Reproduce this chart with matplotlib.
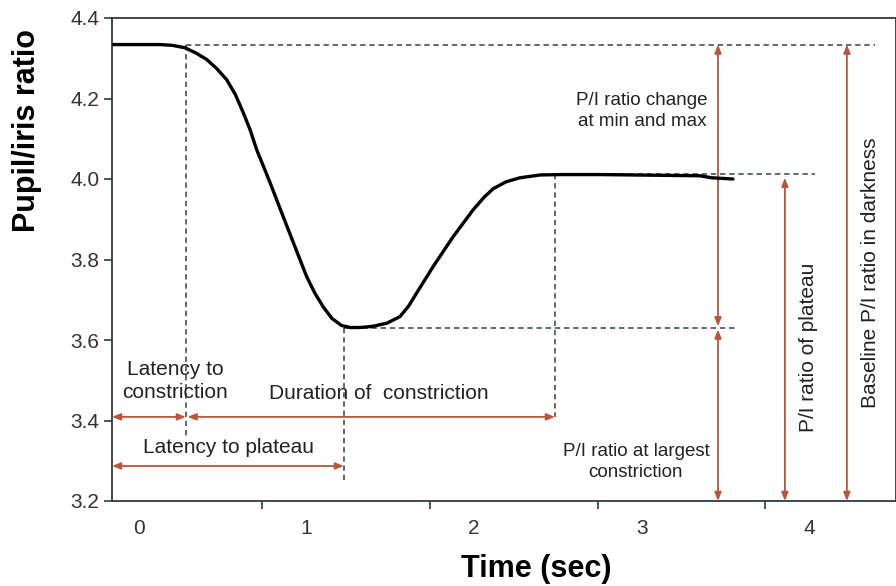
import matplotlib
matplotlib.use("Agg")
import matplotlib.pyplot as plt
from matplotlib.ticker import FixedLocator

plt.rcParams['font.family'] = ['Liberation Sans', 'DejaVu Sans']

# ---- data ----
time_s = [-0.155, 0.125, 0.200, 0.274, 0.340, 0.404, 0.460, 0.523, 0.575, 0.622,
          0.665, 0.702, 0.742, 0.782, 0.861, 0.921, 1.001, 1.050, 1.100, 1.150,
          1.209, 1.260, 1.319, 1.396, 1.480, 1.557, 1.610, 1.657, 1.756, 1.875,
          1.995, 2.060, 2.114, 2.190, 2.273, 2.393, 2.512, 2.751, 3.347, 3.418,
          3.544]
ratio = [4.334, 4.334, 4.332, 4.326, 4.313, 4.297, 4.276, 4.247, 4.210, 4.165,
         4.120, 4.073, 4.032, 3.991, 3.906, 3.842, 3.757, 3.716, 3.682, 3.654,
         3.636, 3.631, 3.631, 3.634, 3.642, 3.658, 3.685, 3.717, 3.783, 3.857,
         3.924, 3.955, 3.976, 3.993, 4.003, 4.010, 4.011, 4.011, 4.008, 4.003,
         4.000]

baseline = 4.334
minimum = 3.630
plateau = 4.013
t_latency = 0.280
t_min = 1.223
t_plateau = 2.482

x_tick_labels = ['0', '1', '2', '3', '4']
x_tick_label_pos = [0, 1, 2, 3, 4]
x_tick_marks = [0.734, 1.736, 2.739, 3.735]
y_ticks = [3.2, 3.4, 3.6, 3.8, 4.0, 4.2, 4.4]

# ---- styling ----
W, H = 896, 586
fig = plt.figure(figsize=(W / 100, H / 100), dpi=100)
ax = fig.add_axes([112 / W, 1 - 501 / H, (W - 112) / W, (501 - 18) / H])

spine_c = '#2d3c44'
dash_c = '#2f4450'
arrow_c = '#b8553a'
text_c = '#222222'

ax.set_xlim(-0.161, 4.517)
ax.set_ylim(3.2, 4.4)
for s in ax.spines.values():
    s.set_color(spine_c)
    s.set_linewidth(1.3)

ax.set_xticks(x_tick_label_pos)
ax.set_xticklabels(x_tick_labels)
ax.xaxis.set_minor_locator(FixedLocator(x_tick_marks))
ax.tick_params(axis='x', which='major', length=0, pad=13, labelsize=15, labelcolor='#333333')
ax.tick_params(axis='x', which='minor', length=6, width=1.2, color=spine_c, direction='out')
ax.set_yticks(y_ticks)
ax.set_yticklabels([f'{v:.1f}' for v in y_ticks])
ax.tick_params(axis='y', length=6, width=1.2, color=spine_c, pad=3, labelsize=15, labelcolor='#333333')

# main curve
ax.plot(time_s, ratio, color='black', lw=2.4, solid_capstyle='round',
        solid_joinstyle='round', zorder=5)

# dashed reference lines
dk = dict(color=dash_c, lw=1.1, ls=(0, (3.5, 2.5)), zorder=3)
ax.plot([t_latency, 4.391], [baseline, baseline], **dk)
ax.plot([t_latency, t_latency], [baseline, 3.359], **dk)
ax.plot([t_min, 3.556], [minimum, minimum], **dk)
ax.plot([t_min, t_min], [minimum, 3.252], **dk)
ax.plot([t_plateau, 4.033], [plateau, plateau], **dk)
ax.plot([t_plateau, t_plateau], [plateau, 3.409], **dk)

# arrows
def darrow(x0, y0, x1, y1):
    ax.annotate('', xy=(x1, y1), xytext=(x0, y0),
                arrowprops=dict(arrowstyle='<|-|>,head_length=0.5,head_width=0.2',
                                color=arrow_c, lw=1.3, shrinkA=0, shrinkB=0), zorder=4)

y_lat = 3.409
y_plat = 3.287
x_left = -0.161
darrow(x_left, y_lat, t_latency, y_lat)
darrow(t_latency + 0.01, y_lat, t_plateau, y_lat)
darrow(x_left, y_plat, t_min, y_plat)
x_a1, x_a2, x_a3 = 3.455, 3.854, 4.224
darrow(x_a1, baseline, x_a1, minimum + 0.004)
darrow(x_a1, minimum - 0.004, x_a1, 3.2)
darrow(x_a2, plateau - 0.01, x_a2, 3.2)
darrow(x_a3, baseline, x_a3, 3.2)

# annotation texts
tk = dict(color=text_c, ha='center', va='center')
ax.text(0.215, 3.498, 'Latency to\nconstriction', fontsize=15, linespacing=1.3, **tk)
ax.text(1.432, 3.466, 'Duration of  constriction', fontsize=15, **tk)
ax.text(0.537, 3.334, 'Latency to plateau', fontsize=15, **tk)
ax.text(3.001, 4.169, 'P/I ratio change\nat min and max', fontsize=13.5, linespacing=1.35, **tk)
ax.text(2.965, 3.296, 'P/I ratio at largest\nconstriction', fontsize=13.5, linespacing=1.3, **tk)
ax.text(3.992, 3.581, 'P/I ratio of plateau', fontsize=15, rotation=90, **tk)
ax.text(4.362, 3.767, 'Baseline P/I ratio in darkness', fontsize=15, rotation=90, **tk)

# axis titles
fig.text(536 / W, 1 - 569 / H, 'Time (sec)', fontsize=22, fontweight='bold',
         ha='center', va='center', color='black')
fig.text(27 / W, 1 - 131 / H, 'Pupil/iris ratio', fontsize=22, fontweight='bold',
         rotation=90, ha='center', va='center', color='black')

fig.savefig('out.png', dpi=100)
